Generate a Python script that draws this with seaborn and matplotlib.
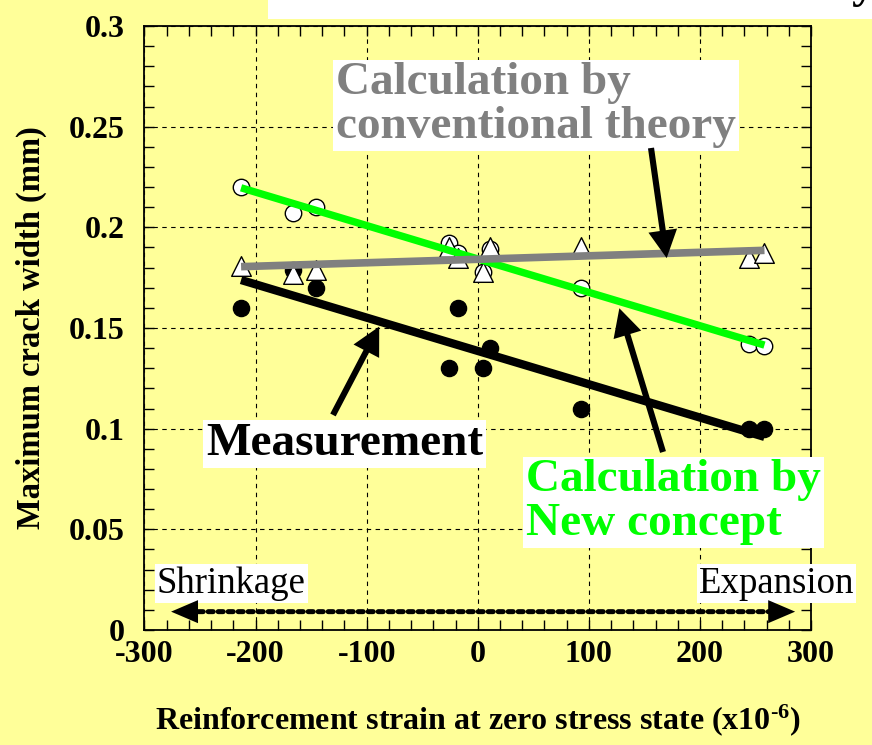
import numpy as np
import pandas as pd
import matplotlib
matplotlib.use("Agg")
import matplotlib.pyplot as plt
import seaborn as sns
from matplotlib.ticker import FixedLocator, MultipleLocator
from matplotlib.patches import Rectangle

# Reinforcement strain at zero stress state (x10^-6)
strain = [-213, -166, -146, -26, -18, 5, 11, 93, 244, 258]
# Maximum crack width (mm)
measured = [0.160, 0.179, 0.170, 0.130, 0.160, 0.130, 0.140, 0.110, 0.100, 0.100]
conventional = [0.181, 0.177, 0.179, 0.190, 0.185, 0.178, 0.190, 0.190, 0.185, 0.187]
new_concept = [0.220, 0.207, 0.210, 0.192, 0.187, 0.178, 0.189, 0.170, 0.142, 0.141]

x_ticks = [-300, -200, -100, 0, 100, 200, 300]
x_tick_labels = ["-300", "-200", "-100", "0", "100", "200", "300"]
y_ticks = [0, 0.05, 0.1, 0.15, 0.2, 0.25, 0.3]
y_tick_labels = ["0", "0.05", "0.1", "0.15", "0.2", "0.25", "0.3"]

df = pd.DataFrame({
    "strain": strain,
    "measured": measured,
    "conventional": conventional,
    "new_concept": new_concept,
})

BG = "#FFFF99"
GREEN = "#00FF00"
GREY = "#808080"

sns.set_style("ticks")
plt.rcParams["font.family"] = ["Liberation Serif", "DejaVu Serif"]
plt.rcParams["text.color"] = "black"
plt.rcParams["axes.labelcolor"] = "black"
plt.rcParams["xtick.color"] = "black"
plt.rcParams["ytick.color"] = "black"
plt.rcParams["mathtext.fontset"] = "custom"
plt.rcParams["mathtext.rm"] = "Liberation Serif:bold"
plt.rcParams["mathtext.it"] = "Liberation Serif:bold"
plt.rcParams["mathtext.bf"] = "Liberation Serif:bold"

fig = plt.figure(figsize=(8.72, 7.45), dpi=100, facecolor=BG)
ax = fig.add_axes([0.1656, 0.1544, 0.7646, 0.8107])
ax.set_facecolor(BG)

# data points
sns.scatterplot(data=df, x="strain", y="measured", ax=ax, marker="o", s=135,
                color="black", edgecolor="black", linewidth=1, zorder=2)
sns.scatterplot(data=df, x="strain", y="new_concept", ax=ax, marker="o", s=140,
                color="white", edgecolor="black", linewidth=1, zorder=2)
sns.scatterplot(data=df, x="strain", y="conventional", ax=ax, marker="^", s=200,
                color="white", edgecolor="black", linewidth=1, zorder=2)

# linear trends
sns.regplot(data=df, x="strain", y="new_concept", ax=ax, scatter=False, ci=None,
            color=GREEN, line_kws=dict(lw=5.3, solid_capstyle="butt", zorder=3))
sns.regplot(data=df, x="strain", y="measured", ax=ax, scatter=False, ci=None,
            color="black", line_kws=dict(lw=6.0, solid_capstyle="butt", zorder=3))
sns.regplot(data=df, x="strain", y="conventional", ax=ax, scatter=False, ci=None,
            color=GREY, line_kws=dict(lw=5.5, solid_capstyle="butt", zorder=3))

ax.set_xlim(-300, 300)
ax.set_ylim(0, 0.3)
ax.xaxis.set_major_locator(FixedLocator(x_ticks))
ax.set_xticklabels(x_tick_labels)
ax.xaxis.set_minor_locator(MultipleLocator(20))
ax.yaxis.set_major_locator(FixedLocator(y_ticks))
ax.set_yticklabels(y_tick_labels)
ax.yaxis.set_minor_locator(MultipleLocator(0.01))
ax.tick_params(which="both", direction="in", top=True, right=True,
               length=7, width=1, color="black", labelcolor="black")
ax.tick_params(axis="x", which="major", labelsize=23, pad=7)
ax.tick_params(axis="y", which="major", labelsize=23, pad=14)
for lab in ax.get_xticklabels() + ax.get_yticklabels():
    lab.set_fontweight("bold")
ax.grid(True, which="major", ls=(0, (4, 4)), color="black", lw=0.8)
ax.set_axisbelow(True)
for sp in ax.spines.values():
    sp.set_linewidth(1.3)
    sp.set_color("black")

ax.set_xlabel(r"Reinforcement strain at zero stress state (x10$^{\text{-6}}$)",
              fontsize=23, fontweight="bold", labelpad=24, color="black")
ax.set_ylabel("Maximum crack width (mm)", fontsize=23.5, fontweight="bold",
              labelpad=16, color="black")

box = dict(boxstyle="square,pad=0.06", fc="white", ec="none")

ax.text(-127.6, 0.2444, "Calculation by\nconventional theory", color=GREY,
        fontsize=34, fontweight="bold", ha="left", va="baseline",
        linespacing=1.05, bbox=box, zorder=4)
ax.text(-244.6, 0.0869, "Measurement", color="black",
        fontsize=34, fontweight="bold", ha="left", va="baseline",
        bbox=box, zorder=4)
ax.text(43.4, 0.0472, "Calculation by\nNew concept", color=GREEN,
        fontsize=34, fontweight="bold", ha="left", va="baseline",
        linespacing=1.05, bbox=box, zorder=4)
ax.text(-288.7, 0.0184, "Shrinkage", color="black", fontsize=26.5,
        ha="left", va="baseline", bbox=box, zorder=4)
ax.text(199, 0.0184, "Expansion", color="black", fontsize=26.5,
        ha="left", va="baseline", bbox=box, zorder=4, clip_on=False)

# pointer arrows
arrow = dict(arrowstyle="simple,head_length=1.0,head_width=1.04,tail_width=0.22",
             mutation_scale=20, fc="black", ec="none", lw=0,
             shrinkA=0, shrinkB=0)
ax.annotate("", xy=(170, 0.1847), xytext=(155.9, 0.2394), arrowprops=arrow,
            zorder=5)
ax.annotate("", xy=(-88.7, 0.1507), xytext=(-130.3, 0.1068), arrowprops=arrow,
            zorder=5)
ax.annotate("", xy=(127.4, 0.1598), xytext=(166.7, 0.0884), arrowprops=arrow,
            zorder=5)

# shrinkage / expansion double arrow
ax.annotate("", xy=(262, 0.0091), xytext=(-251.6, 0.0091),
            arrowprops=dict(arrowstyle="-", ls=(0, (1, 1)), lw=3.6,
                            color="black", shrinkA=0, shrinkB=0), zorder=5)
head = dict(arrowstyle="simple,head_length=0.97,head_width=0.83,tail_width=0.01",
            mutation_scale=20, fc="black", ec="none", lw=0,
            shrinkA=0, shrinkB=0)
ax.annotate("", xy=(-276, 0.0091), xytext=(-251.6, 0.0091), arrowprops=head,
            zorder=5)
ax.annotate("", xy=(285.6, 0.0091), xytext=(262, 0.0091), arrowprops=head,
            zorder=5)

# title strip at the top edge
fig.add_artist(Rectangle((268 / 872, 1 - 19 / 745), 1, 19 / 745,
                         transform=fig.transFigure, fc="white", ec="none",
                         zorder=0))
fig.text(0.990, 1.004, "y", fontsize=34, fontweight="bold", ha="center",
         va="baseline", color="black")

fig.savefig("out.png", dpi=100, facecolor=BG)
